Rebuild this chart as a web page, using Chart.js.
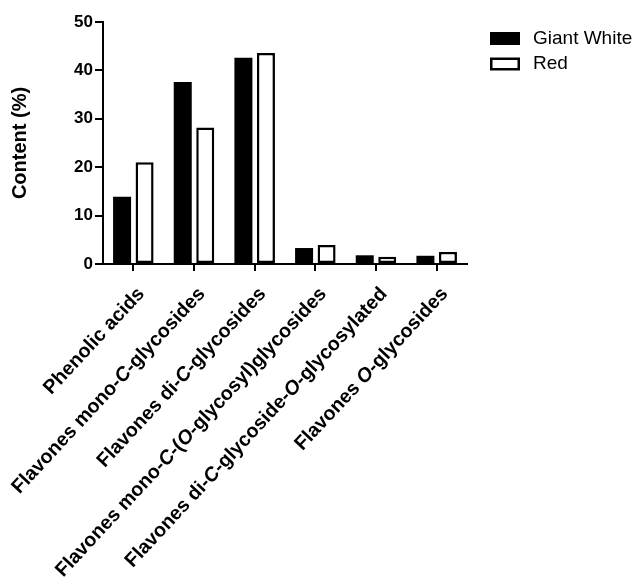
<!DOCTYPE html>
<html>
<head>
<meta charset="utf-8">
<script src="https://cdn.jsdelivr.net/npm/chart.js@4.4.0/dist/chart.umd.min.js"></script>
<style>
  html, body { margin: 0; padding: 0; background: #fff; }
  #wrap { width: 639px; height: 588px; position: relative; }
</style>
</head>
<body>
<div id="wrap"><canvas id="c" width="639" height="588"></canvas></div>
<script>
// Compound classes (x categories)
const categories = [
  'Phenolic acids',
  'Flavones mono-C-glycosides',
  'Flavones di-C-glycosides',
  'Flavones mono-C-(O-glycosyl)glycosides',
  'Flavones di-C-glycoside-O-glycosylated',
  'Flavones O-glycosides'
];
const seriesNames = ['Giant White', 'Red'];
// Content (%) per class
const giantWhite = [13.9, 37.6, 42.6, 3.3, 1.8, 1.7];
const red = [21.0, 28.2, 43.6, 3.9, 1.5, 2.5];
const yTicks = [0, 10, 20, 30, 40, 50];
const yTitle = 'Content (%)';

const FONT = "'Liberation Sans', Arial, Helvetica, sans-serif";

// Split a label into plain / italic runs: the C and O position locants are italic
function splitItalic(label) {
  const segs = [];
  const re = /(^|[\s(\-])([CO])(?=-)/g;
  let last = 0, m;
  while ((m = re.exec(label)) !== null) {
    const start = m.index + m[1].length;
    if (start > last) segs.push({ text: label.slice(last, start), italic: false });
    segs.push({ text: m[2], italic: true });
    last = start + 1;
  }
  if (last < label.length) segs.push({ text: label.slice(last), italic: false });
  return segs;
}

// Rotated category labels with italic locants, right end at each tick
const xLabelPlugin = {
  id: 'xLabels',
  afterDraw(chart) {
    const { ctx } = chart;
    const x = chart.scales.x;
    const size = 19.7;
    const fontN = `bold ${size}px ${FONT}`;
    const fontI = `italic bold ${size}px ${FONT}`;
    const angle = -47 * Math.PI / 180;
    ctx.save();
    ctx.fillStyle = '#000';
    ctx.textBaseline = 'alphabetic';
    ctx.textAlign = 'left';
    categories.forEach((label, i) => {
      const px = x.getPixelForTick(i);
      const segs = splitItalic(label);
      let total = 0;
      segs.forEach(s => {
        ctx.font = s.italic ? fontI : fontN;
        s.w = ctx.measureText(s.text).width;
        total += s.w;
      });
      ctx.save();
      ctx.translate(px + 12, x.top + 30.5);
      ctx.rotate(angle);
      let cx = -total;
      segs.forEach(s => {
        ctx.font = s.italic ? fontI : fontN;
        ctx.fillText(s.text, cx, 0);
        cx += s.w;
      });
      ctx.restore();
    });
    ctx.restore();
  }
};

// Legend at the upper right, built from the datasets
const legendPlugin = {
  id: 'sideLegend',
  afterDraw(chart) {
    const { ctx } = chart;
    ctx.save();
    ctx.font = `19px ${FONT}`;
    ctx.textBaseline = 'middle';
    ctx.textAlign = 'left';
    chart.data.datasets.forEach((ds, i) => {
      const bx = 490, by = 32 + i * 25.5, bw = 30, bh = 13;
      ctx.fillStyle = ds.backgroundColor;
      ctx.fillRect(bx, by, bw, bh);
      ctx.strokeStyle = ds.borderColor;
      ctx.lineWidth = 2.5;
      ctx.strokeRect(bx + 1.25, by + 1.25, bw - 2.5, bh - 2.5);
      ctx.fillStyle = '#000';
      ctx.fillText(ds.label, 533, by + bh / 2);
    });
    ctx.restore();
  }
};

new Chart(document.getElementById('c'), {
  type: 'bar',
  data: {
    labels: categories,
    datasets: [
      {
        label: seriesNames[0],
        data: giantWhite,
        backgroundColor: '#000',
        borderColor: '#000',
        borderWidth: 0,
        categoryPercentage: 0.742,
        barPercentage: 0.8
      },
      {
        label: seriesNames[1],
        data: red,
        backgroundColor: '#fff',
        borderColor: '#000',
        borderWidth: 2.5,
        borderSkipped: false,
        categoryPercentage: 0.742,
        barPercentage: 0.8
      }
    ]
  },
  options: {
    responsive: false,
    animation: false,
    devicePixelRatio: 1,
    layout: { padding: { left: 0, top: 22, right: 172, bottom: 0 } },
    plugins: {
      legend: { display: false },
      tooltip: { enabled: false }
    },
    scales: {
      x: {
        offset: true,
        grid: { offset: false, drawOnChartArea: false, drawTicks: true, tickLength: 7, color: '#000', lineWidth: 2 },
        border: { display: true, color: '#000', width: 2, z: 1 },
        ticks: { display: false },
        afterFit(scale) { scale.height = 588 - 264; }
      },
      y: {
        min: 0,
        max: 50,
        afterBuildTicks(scale) { scale.ticks = yTicks.map(v => ({ value: v })); },
        ticks: { font: { family: FONT, size: 17, weight: 'bold' }, color: '#000', padding: 2 },
        grid: { drawOnChartArea: false, drawTicks: true, tickLength: 8, color: '#000', lineWidth: 2 },
        border: { display: true, color: '#000', width: 2, z: 1 },
        title: {
          display: true,
          text: yTitle,
          color: '#000',
          font: { family: FONT, size: 20, weight: 'bold' },
          padding: { top: 8, bottom: 0 }
        },
        afterFit(scale) { scale.width = 103; }
      }
    }
  },
  plugins: [xLabelPlugin, legendPlugin]
});
</script>
</body>
</html>
